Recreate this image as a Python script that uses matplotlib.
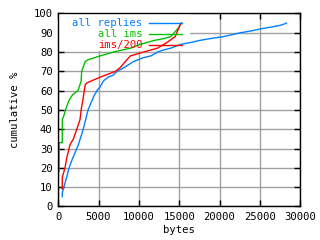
import matplotlib
matplotlib.use("Agg")
import matplotlib.pyplot as plt
from matplotlib.patches import Rectangle

# values (bytes, cumulative %)
replies_x = [500, 500, 700, 900, 1100, 1340, 1600, 1900, 2200, 2500, 2800, 3100, 3400, 3700,
             4000, 4400, 4800, 5200, 5600, 6200, 6800, 7300, 8200, 9300, 10500, 11500, 12300,
             13000, 13960, 15200, 16500, 17500, 18900, 20500, 22600, 24000, 25100, 26500,
             27700, 28300]
replies_y = [5, 7, 10, 13, 16, 20, 23, 26, 29, 32, 36, 40, 45, 50,
             53, 57, 60, 62, 65, 67, 68, 70, 72, 75, 77, 78, 80,
             81, 82, 84, 85, 86, 87, 88, 90, 91, 92, 93,
             94, 95]
ims_x = [100, 100, 500, 500, 700, 900, 1340, 1800, 2450, 2840, 2900, 3340, 3700,
         5200, 6850, 8950, 10200, 11900, 13100, 13950, 14600, 15000, 15300]
ims_y = [18, 33, 33, 45, 47, 50, 55, 58, 60, 65, 70, 75, 76,
         78, 80, 82, 84, 86, 87, 88, 91, 93, 95]
ims200_x = [500, 500, 840, 1050, 1460, 1880, 2300, 2700, 2840, 3050, 3340, 3550,
            5200, 7100, 7700, 8300, 8950, 10600, 12300, 13500, 14500, 14900, 15200]
ims200_y = [9, 15, 20, 25, 32, 35, 40, 45, 50, 55, 63, 64,
            67, 70, 72, 75, 78, 80, 82, 85, 88, 92, 95]

series = [("all replies", replies_x, replies_y, "#0080ff"),
          ("all ims", ims_x, ims_y, "#00c000"),
          ("ims/200", ims200_x, ims200_y, "#ff0000")]

plt.rcParams['font.family'] = ['DejaVu Sans Mono']
plt.rcParams['font.size'] = 7.6

fig = plt.figure(figsize=(3.2, 2.4), dpi=100)
ax = fig.add_axes([0.182, 0.140, 0.756, 0.804])
ax.set_xlim(0, 30000)
ax.set_ylim(0, 100)
ax.set_xticks(range(0, 30001, 5000))
ax.set_yticks(range(0, 101, 10))
ax.set_axisbelow(True)
ax.grid(True, color="#a0a0a0", lw=1)
ax.tick_params(direction="in", length=4, width=1, top=True, right=True, pad=4)
for s in ax.spines.values():
    s.set_linewidth(1)

# key area hides the grid
ax.add_patch(Rectangle((0, 80.6), 16300, 19.4, facecolor="white", edgecolor="none", zorder=1))

for i, (name, xs, ys, col) in enumerate(series):
    ax.plot(xs, ys, color=col, lw=1, zorder=2)
    yk = 0.952 - i * 0.057
    ax.text(0.348, yk, name, color=col, ha="right", va="center", transform=ax.transAxes)
    ax.plot([0.376, 0.512], [yk, yk], color=col, lw=1, transform=ax.transAxes, zorder=3)

ax.set_xlabel("bytes", labelpad=2)
ax.set_ylabel("cumulative %", labelpad=10)

fig.savefig("out.png", dpi=100)
